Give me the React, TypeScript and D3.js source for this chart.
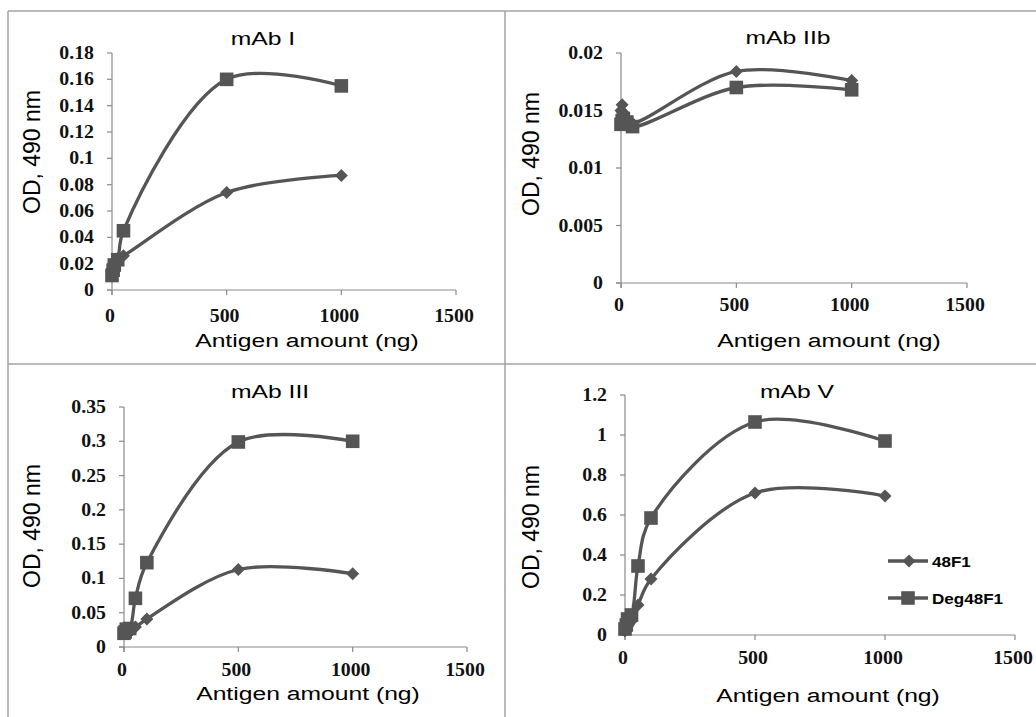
import React from 'react';
import * as d3 from 'd3';

const W = 1036;
const H = 717;

// x values (ng)
const xSmall = [0, 5, 10, 25, 50, 500, 1000];
const xLarge = [0, 5, 10, 25, 50, 100, 500, 1000];
const xTicks = [0, 500, 1000, 1500];

// mAb I
const mAbI_48F1 = [0.016, 0.019, 0.021, 0.024, 0.026, 0.074, 0.087];
const mAbI_Deg = [0.011, 0.015, 0.019, 0.023, 0.045, 0.160, 0.155];
const mAbI_ticks = [0, 0.02, 0.04, 0.06, 0.08, 0.1, 0.12, 0.14, 0.16, 0.18];

// mAb IIb
const mAbIIb_48F1 = [0.0150, 0.0155, 0.0148, 0.0142, 0.0139, 0.0184, 0.0176];
const mAbIIb_Deg = [0.0138, 0.0141, 0.0143, 0.0140, 0.0136, 0.0170, 0.0168];
const mAbIIb_ticks = [0, 0.005, 0.01, 0.015, 0.02];

// mAb III
const mAbIII_48F1 = [0.024, 0.025, 0.026, 0.026, 0.029, 0.041, 0.113, 0.107];
const mAbIII_Deg = [0.020, 0.022, 0.026, 0.027, 0.071, 0.123, 0.299, 0.300];
const mAbIII_ticks = [0, 0.05, 0.1, 0.15, 0.2, 0.25, 0.3, 0.35];

// mAb V
const mAbV_48F1 = [0.02, 0.03, 0.045, 0.07, 0.15, 0.28, 0.71, 0.695];
const mAbV_Deg = [0.03, 0.05, 0.08, 0.10, 0.345, 0.585, 1.065, 0.97];
const mAbV_ticks = [0, 0.2, 0.4, 0.6, 0.8, 1, 1.2];

const seriesNames = ['48F1', 'Deg48F1'];

const LINE = '#555555';
const AXIS = '#8a8a8a';
const BORDER = '#a3a3a3';
const SANS = '"Liberation Sans", Arial, sans-serif';
const SERIF = '"Liberation Serif", "Times New Roman", serif';

type Panel = {
  title: string;
  xs: number[];
  a: number[];
  b: number[];
  yTicks: number[];
  x0: number; x1: number; y0: number; y1: number;
  titleX: number; titleY: number;
  xlabX: number; xlabY: number;
  ylabX: number; ylabY: number;
  tickGap: number;
};

const panels: Panel[] = [
  { title: 'mAb I', xs: xSmall, a: mAbI_48F1, b: mAbI_Deg, yTicks: mAbI_ticks,
    x0: 112, x1: 456, y0: 290, y1: 53, titleX: 263, titleY: 45,
    xlabX: 307, xlabY: 347, ylabX: 40, ylabY: 152, tickGap: 26 },
  { title: 'mAb IIb', xs: xSmall, a: mAbIIb_48F1, b: mAbIIb_Deg, yTicks: mAbIIb_ticks,
    x0: 621, x1: 967, y0: 283, y1: 53, titleX: 788, titleY: 44,
    xlabX: 829, xlabY: 347, ylabX: 539, ylabY: 154, tickGap: 22 },
  { title: 'mAb III', xs: xLarge, a: mAbIII_48F1, b: mAbIII_Deg, yTicks: mAbIII_ticks,
    x0: 124, x1: 467, y0: 647, y1: 407, titleX: 270, titleY: 398,
    xlabX: 308, xlabY: 700, ylabX: 40, ylabY: 526, tickGap: 23 },
  { title: 'mAb V', xs: xLarge, a: mAbV_48F1, b: mAbV_Deg, yTicks: mAbV_ticks,
    x0: 625, x1: 1015, y0: 635, y1: 395, titleX: 797, titleY: 398,
    xlabX: 828, xlabY: 702, ylabX: 539, ylabY: 527, tickGap: 23 },
];

const Diamond = ({ x, y, s = 6.5 }: { x: number; y: number; s?: number }) => (
  <path d={`M${x},${y - s}L${x + s},${y}L${x},${y + s}L${x - s},${y}Z`} fill={LINE} />
);
const Square = ({ x, y, s = 6.8 }: { x: number; y: number; s?: number }) => (
  <rect x={x - s} y={y - s} width={2 * s} height={2 * s} fill={LINE} />
);

const STextH = ({ x, y, size, sx = 1.3, anchor = 'middle', family = SANS, weight = 'normal', children }: any) => (
  <text transform={`translate(${x},${y}) scale(${sx},1)`} fontSize={size} fontFamily={family}
    fontWeight={weight} textAnchor={anchor} fill="#000">{children}</text>
);

const Chart = ({ p }: { p: Panel }) => {
  const xScale = d3.scaleLinear().domain([0, 1500]).range([p.x0, p.x1]);
  const yMax = p.yTicks[p.yTicks.length - 1];
  const yScale = d3.scaleLinear().domain([0, yMax]).range([p.y0, p.y1]);
  const line = d3.line<number>()
    .x((_, i) => xScale(p.xs[i]))
    .y((d) => yScale(d))
    .curve(d3.curveCatmullRom.alpha(0.5));

  return (
    <g>
      <STextH x={p.titleX} y={p.titleY} size={19}>{p.title}</STextH>
      {/* axes */}
      <line x1={xScale(0)} x2={xScale(0)} y1={p.y0 + 5} y2={p.y1} stroke={AXIS} strokeWidth={1.2} />
      <line x1={p.x0 - 5} x2={p.x1} y1={p.y0} y2={p.y0} stroke={AXIS} strokeWidth={1.2} />
      {p.yTicks.map((t) => (
        <g key={t}>
          <line x1={p.x0 - 5} x2={p.x0} y1={yScale(t)} y2={yScale(t)} stroke={AXIS} strokeWidth={1.2} />
          <text transform={`translate(${p.x0 - 18},${yScale(t) + 6}) scale(1.1,1)`} textAnchor="end"
            fontFamily={SERIF} fontWeight="bold" fontSize={18} fill="#111">{String(t)}</text>
        </g>
      ))}
      {xTicks.map((t) => (
        <g key={t}>
          <line x1={xScale(t)} x2={xScale(t)} y1={p.y0} y2={p.y0 + 5} stroke={AXIS} strokeWidth={1.2} />
          <text transform={`translate(${xScale(t) - 2},${p.y0 + p.tickGap + 6}) scale(1.1,1)`} textAnchor="middle"
            fontFamily={SERIF} fontWeight="bold" fontSize={18} fill="#111">{String(t)}</text>
        </g>
      ))}
      {/* series */}
      <path d={line(p.a) || ''} fill="none" stroke={LINE} strokeWidth={3.3} />
      <path d={line(p.b) || ''} fill="none" stroke={LINE} strokeWidth={3.3} />
      {p.a.map((v, i) => <Diamond key={'a' + i} x={xScale(p.xs[i])} y={yScale(v)} />)}
      {p.b.map((v, i) => <Square key={'b' + i} x={xScale(p.xs[i])} y={yScale(v)} />)}
      <STextH x={p.xlabX} y={p.xlabY} size={19}>Antigen amount (ng)</STextH>
      <text transform={`translate(${p.ylabX},${p.ylabY}) rotate(-90)`} textAnchor="middle"
        fontFamily={SANS} fontSize={23} fill="#000">OD, 490 nm</text>
    </g>
  );
};

export default function App() {
  const legendY = [561, 598];
  return (
    <svg width={W} height={H} style={{ position: 'absolute', left: 0, top: 0, background: '#fff' }}>
      <rect x={0} y={0} width={W} height={H} fill="#fff" />
      {/* panel grid */}
      <line x1={8} x2={W} y1={11} y2={11} stroke={BORDER} strokeWidth={1.5} />
      <line x1={8} x2={W} y1={364} y2={364} stroke={BORDER} strokeWidth={1.5} />
      <line x1={8} x2={8} y1={11} y2={H} stroke={BORDER} strokeWidth={1.5} />
      <line x1={505} x2={505} y1={11} y2={H} stroke={BORDER} strokeWidth={1.5} />
      {panels.map((p) => <Chart key={p.title} p={p} />)}
      {/* legend */}
      {seriesNames.map((n, i) => (
        <g key={n}>
          <line x1={888} x2={928} y1={legendY[i]} y2={legendY[i]} stroke={LINE} strokeWidth={3.3} />
          {i === 0 ? <Diamond x={909} y={legendY[i]} /> : <Square x={908} y={legendY[i]} />}
          <STextH x={932} y={legendY[i] + 5.5} size={15.5} sx={1.1} anchor="start" weight="bold">{n}</STextH>
        </g>
      ))}
    </svg>
  );
}
